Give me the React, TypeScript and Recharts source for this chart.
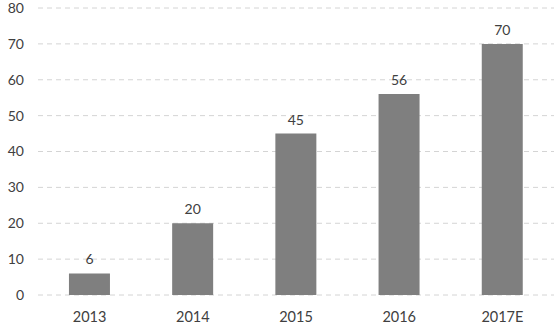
import { BarChart, Bar, XAxis, YAxis, CartesianGrid, LabelList } from "recharts";

const years = ["2013", "2014", "2015", "2016", "2017E"];
const values = [6, 20, 45, 56, 70];
const yTicks = [0, 10, 20, 30, 40, 50, 60, 70, 80];

const chartData = years.map((year, i) => ({ year, value: values[i] }));

const font = "'Lato', 'DejaVu Sans', sans-serif";
const textColor = "#404040";

export default function App() {
  return (
    <div style={{ position: "absolute", left: 0, top: 0, background: "#fff" }}>
      <BarChart
        width={558}
        height={329}
        data={chartData}
        margin={{ top: 8, right: 4, bottom: 0, left: 0 }}
        barCategoryGap="30%"
      >
        <CartesianGrid
          vertical={false}
          stroke="#d4d4d4"
          strokeDasharray="5 4"
        />
        <XAxis
          dataKey="year"
          axisLine={false}
          tickLine={false}
          height={34}
          tickMargin={11}
          tick={{ fill: textColor, fontSize: 14.5, fontFamily: font }}
        />
        <YAxis
          width={38}
          domain={[0, 80]}
          ticks={yTicks}
          axisLine={false}
          tickLine={false}
          tickMargin={8}
          tick={{ fill: textColor, fontSize: 14, fontFamily: font }}
        />
        <Bar dataKey="value" fill="#7f7f7f" isAnimationActive={false}>
          <LabelList
            dataKey="value"
            position="top"
            offset={9}
            fill={textColor}
            fontSize={14}
            fontFamily={font}
          />
        </Bar>
      </BarChart>
    </div>
  );
}
